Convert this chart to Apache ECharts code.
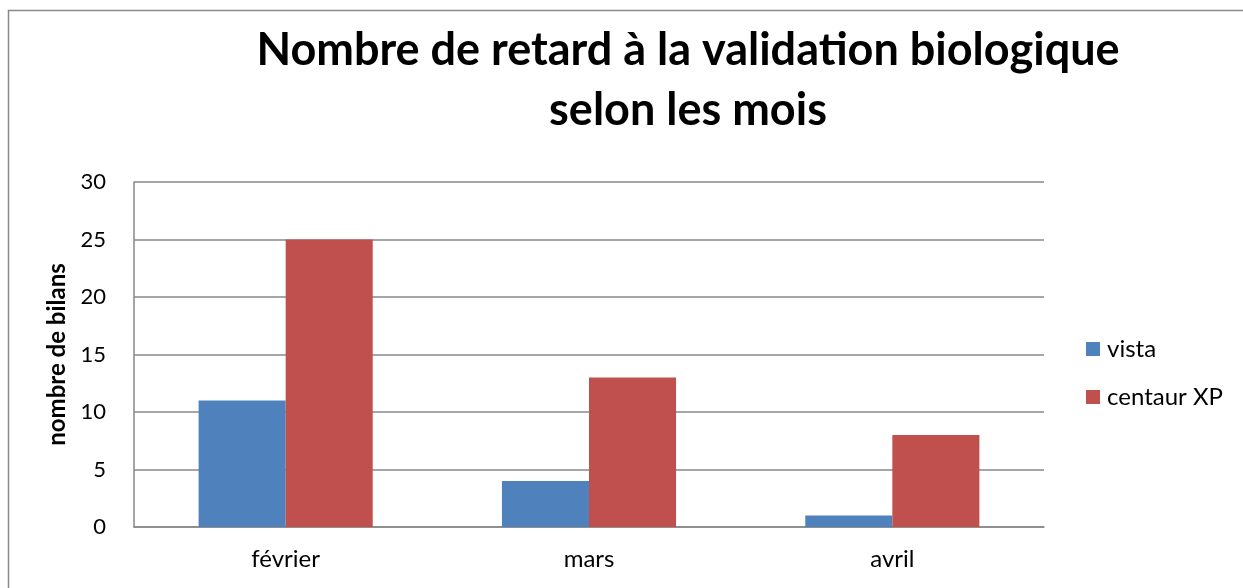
<!DOCTYPE html>
<html>
<head>
<meta charset="utf-8">
<script src="https://cdn.jsdelivr.net/npm/echarts@6/dist/echarts.min.js"></script>
<style>
  html, body { margin: 0; padding: 0; background: #fff; }
  #chart { width: 1243px; height: 588px; }
</style>
</head>
<body>
<div id="chart"></div>
<script>
const months = ['février', 'mars', 'avril'];
const vista = [11, 4, 1];
const centaur = [25, 13, 8];

const chart = echarts.init(document.getElementById('chart'));

const font = 'Lato, "Open Sans", sans-serif';

chart.setOption({
  animation: false,
  backgroundColor: '#fff',
  graphic: [
    {
      type: 'rect',
      shape: { x: 8.5, y: 10.5, width: 1260, height: 600 },
      style: { fill: 'none', stroke: '#888', lineWidth: 1.5 },
      silent: true
    }
  ],
  title: {
    text: 'Nombre de retard à la validation biologique\nselon les mois',
    left: 683,
    top: 15,
    textAlign: 'center',
    textStyle: {
      fontFamily: font,
      fontSize: 45,
      fontWeight: 'bold',
      color: '#000',
      lineHeight: 60
    }
  },
  legend: {
    orient: 'vertical',
    left: 1081,
    top: 332,
    itemWidth: 14,
    itemHeight: 14,
    itemGap: 24,
    icon: 'rect',
    textStyle: { fontFamily: font, fontSize: 24, lineHeight: 24, color: '#000', padding: [0, 0, 0, 2] },
    data: ['vista', 'centaur XP']
  },
  grid: {
    left: 134,
    right: 199,
    top: 182,
    bottom: 61,
    containLabel: false
  },
  xAxis: {
    type: 'category',
    data: months,
    axisLine: { lineStyle: { color: '#888', width: 1.5 } },
    axisTick: { show: false },
    axisLabel: { fontFamily: font, fontSize: 24, color: '#000', margin: 20 }
  },
  yAxis: {
    type: 'value',
    min: 0,
    max: 30,
    interval: 5,
    name: 'nombre de bilans',
    nameLocation: 'middle',
    nameGap: 63,
    nameTextStyle: { fontFamily: font, fontSize: 24, fontWeight: 'bold', color: '#000' },
    axisLine: { show: true, lineStyle: { color: '#888', width: 1.5 } },
    axisTick: { show: false },
    splitLine: { lineStyle: { color: '#888', width: 1.5 } },
    axisLabel: { fontFamily: font, fontSize: 22, color: '#000', margin: 28 }
  },
  series: [
    {
      name: 'vista',
      type: 'bar',
      data: vista,
      barWidth: '28.7%',
      barGap: '0%',
      itemStyle: { color: '#4f81bd' }
    },
    {
      name: 'centaur XP',
      type: 'bar',
      data: centaur,
      barWidth: '28.7%',
      itemStyle: { color: '#c0504d' }
    }
  ]
});
</script>
</body>
</html>
